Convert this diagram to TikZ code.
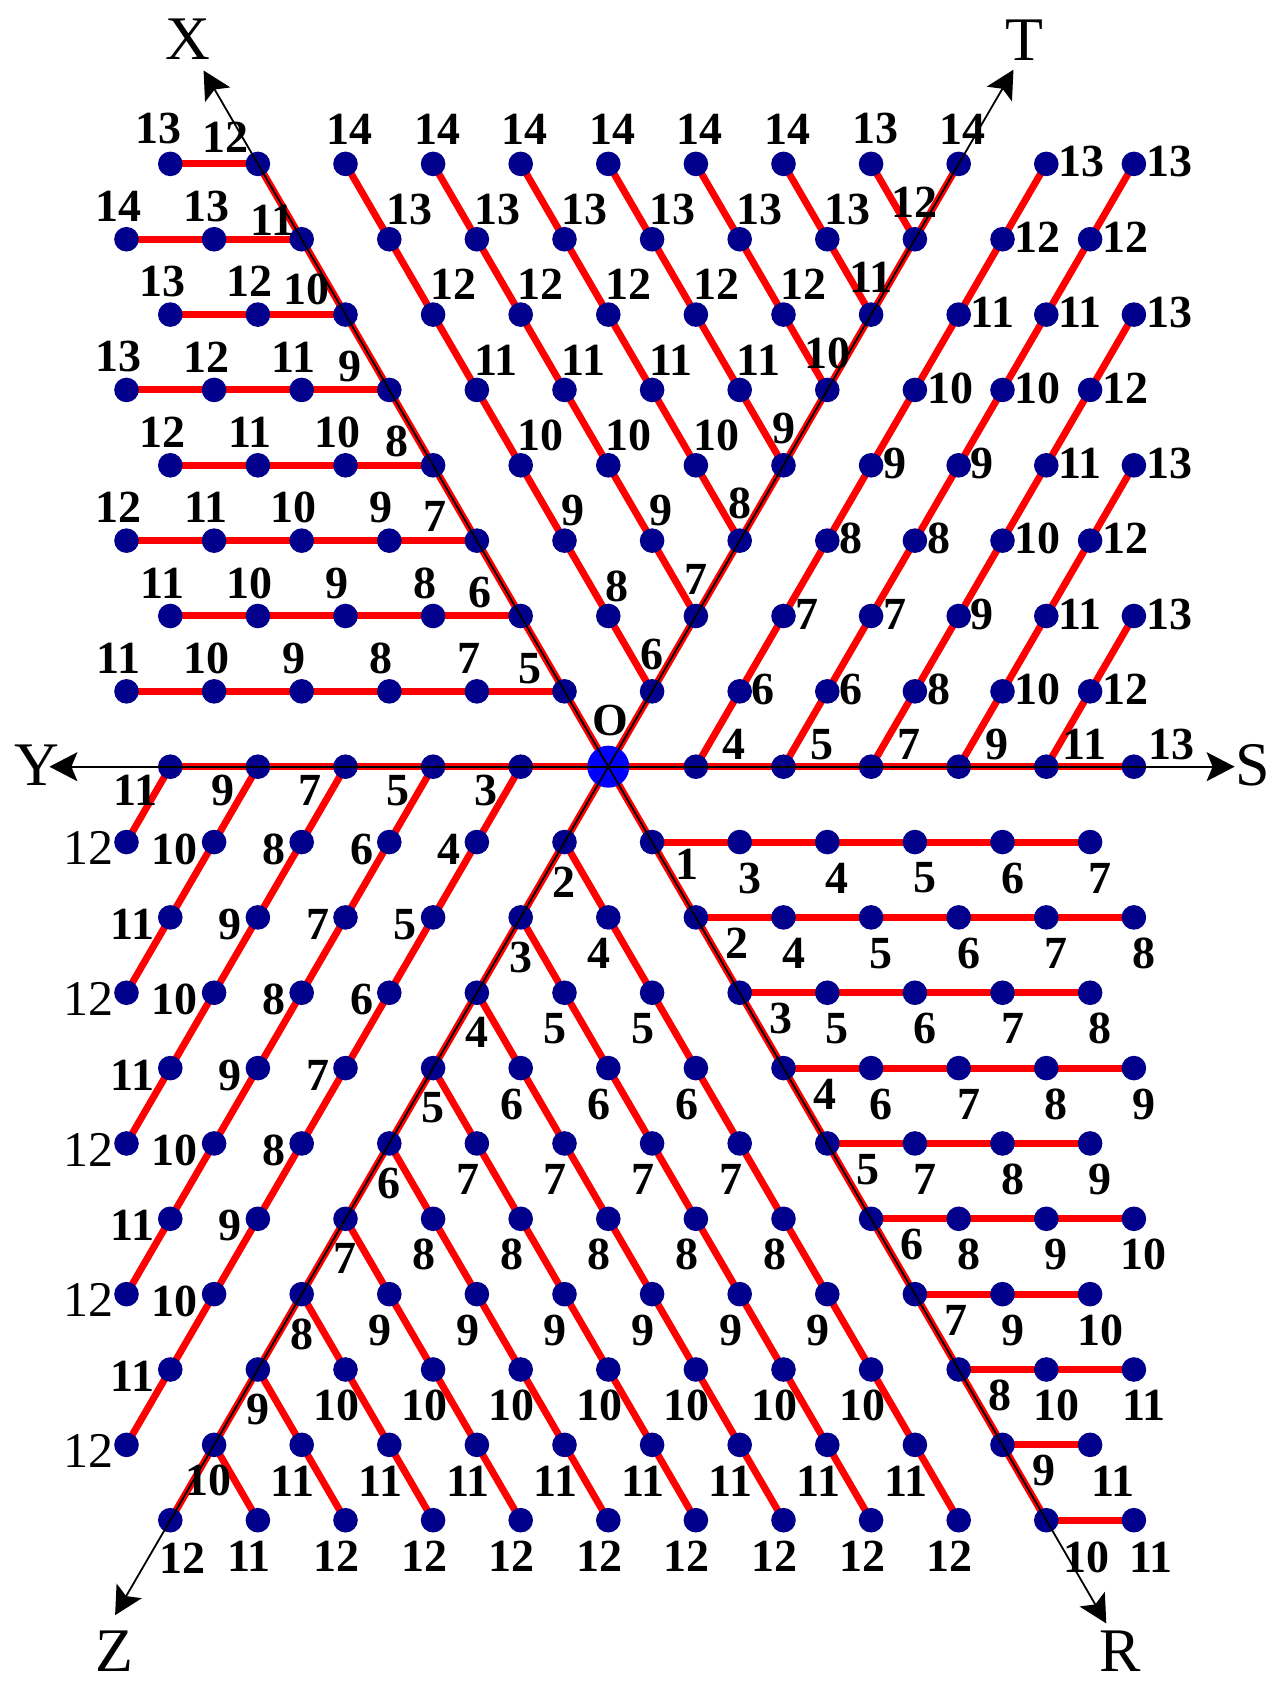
\documentclass[tikz,border=0pt]{standalone}
\usepackage{fontspec}
\setmainfont{Liberation Serif}
\usetikzlibrary{arrows.meta,backgrounds}
\definecolor{dotblue}{RGB}{0,0,140}
\definecolor{oblue}{RGB}{0,0,255}
\definecolor{lred}{RGB}{255,0,0}
\begin{document}
\begin{tikzpicture}[x={(87.6pt,0pt)}, y={(43.8pt,75.35pt)},
  redl/.style={draw=lred, line width=7pt},
  dotn/.style={circle, fill=dotblue, inner sep=0pt, minimum size=24.6pt},
  onode/.style={circle, fill=oblue, inner sep=0pt, minimum size=42pt},
  axisl/.style={draw=black, line width=1.8pt, >={Stealth[length=28pt,width=29pt,inset=6pt]}, <->},
  lab/.style={font=\fontsize{46}{46}\selectfont\bfseries, inner sep=0pt},
  labr/.style={font=\fontsize{50}{50}\selectfont, inner sep=0pt},
  axlab/.style={font=\fontsize{62}{62}\selectfont, inner sep=0pt}]
\useasboundingbox (-608.3pt,-925.3pt) rectangle (666.7pt,766.7pt);

% ---------- lattice points (dots) ----------
% S-T region
\foreach \vk/\vn in {1/8,2/8,3/6,4/4,5/2,6/0}
  \foreach \vj in {0,...,\vn}
    \node[dotn] (p\vk x\vj) at (\vk,\vj) {};
% T-X region
\foreach \va in {1,...,8}{
  \pgfmathtruncatemacro\vn{8-\va}
  \foreach \vm in {0,...,\vn}{
    \pgfmathtruncatemacro\vi{0-\vm}\pgfmathtruncatemacro\vjj{\va+\vm}
    \node[dotn] (p\vi x\vjj) at (\vi,\vjj) {};}}
% X-Y region
\foreach \vj/\vn in {1/5,2/4,3/4,4/3,5/3,6/2,7/2,8/1}
  \foreach \vm in {0,...,\vn}{
    \pgfmathtruncatemacro\vi{0-\vj-\vm}
    \node[dotn] (p\vi x\vj) at (\vi,\vj) {};}
% Y-Z region
\foreach \vk in {1,...,5}{
  \pgfmathtruncatemacro\vn{11-2*\vk}
  \foreach \vm in {0,...,\vn}{
    \pgfmathtruncatemacro\vjj{0-\vm}
    \node[dotn] (p-\vk x\vjj) at (-\vk,\vjj) {};}}
% Z-R region
\foreach \vj in {1,...,10}{
  \pgfmathtruncatemacro\vn{10-\vj}
  \foreach \vm in {0,...,\vn}{
    \pgfmathtruncatemacro\vjj{0-\vj-\vm}
    \node[dotn] (p\vm x\vjj) at (\vm,\vjj) {};}}
% R-S region
\foreach \vj/\vn in {1/5,2/5,3/4,4/4,5/3,6/3,7/2,8/2,9/1,10/1}
  \foreach \vm in {0,...,\vn}{
    \pgfmathtruncatemacro\vi{\vj+\vm}
    \node[dotn] (p\vi x-\vj) at (\vi,-\vj) {};}
% origin
\node[onode] (O) at (0,0) {};

% ---------- red connectors (behind the dots) ----------
\begin{pgfonlayer}{background}
\draw[redl] (O.center) -- (p6x0.center);
\draw[redl] (O.center) -- (p0x8.center);
\draw[redl] (O.center) -- (p-8x8.center);
\draw[redl] (O.center) -- (p-5x0.center);
\draw[redl] (O.center) -- (p0x-10.center);
\draw[redl] (O.center) -- (p10x-10.center);
\foreach \vk/\vn in {1/8,2/8,3/6,4/4,5/2}
  \draw[redl] (p\vk x0.center) -- (p\vk x\vn.center);
\foreach \va in {1,...,7}{
  \pgfmathtruncatemacro\vi{\va-8}
  \draw[redl] (p0x\va.center) -- (p\vi x8.center);}
\foreach \vj/\vn in {1/5,2/4,3/4,4/3,5/3,6/2,7/2,8/1}{
  \pgfmathtruncatemacro\vi{0-\vj-\vn}\pgfmathtruncatemacro\vz{0-\vj}
  \draw[redl] (p\vz x\vj.center) -- (p\vi x\vj.center);}
\foreach \vk in {1,...,5}{
  \pgfmathtruncatemacro\vjj{2*\vk-11}
  \draw[redl] (p-\vk x0.center) -- (p-\vk x\vjj.center);}
\foreach \vj in {1,...,9}{
  \pgfmathtruncatemacro\vi{10-\vj}
  \draw[redl] (p0x-\vj.center) -- (p\vi x-10.center);}
\foreach \vj/\vn in {1/5,2/5,3/4,4/4,5/3,6/3,7/2,8/2,9/1,10/1}{
  \pgfmathtruncatemacro\vi{\vj+\vn}
  \draw[redl] (p\vj x-\vj.center) -- (p\vi x-\vj.center);}
\end{pgfonlayer}

% ---------- axes ----------
\coordinate (Xt) at (-9.24,9.24);
\coordinate (Tt) at (0,9.25);
\coordinate (Yt) at (-6.38,0);
\coordinate (St) at (7.15,0);
\coordinate (Zt) at (0,-11.26);
\coordinate (Rt) at (11.37,-11.37);
\draw[axisl] (Xt) -- (Rt);
\draw[axisl] (Tt) -- (Zt);
\draw[axisl] (Yt) -- (St);
\node[axlab, xshift=-15.7pt, yshift=31.5pt] (Xl) at (Xt) {X};
\node[axlab, xshift=10.5pt, yshift=29.2pt] (Tl) at (Tt) {T};
\node[axlab, xshift=-12.8pt, yshift=1.7pt] (Yl) at (Yt) {Y};
\node[axlab, xshift=17.7pt, yshift=1.7pt] (Sl) at (St) {S};
\node[axlab, xshift=-0.3pt, yshift=-35.8pt] (Zl) at (Zt) {Z};
\node[axlab, xshift=13.7pt, yshift=-28.1pt] (Rl) at (Rt) {R};
\node[lab, xshift=2pt, yshift=46pt] (Ol) at (O) {O};

% ---------- labels ----------
% S axis
\foreach \vk/\vt in {1/4,2/5,3/7,4/9,5/11,6/13}
  \node[lab, xshift=38pt, yshift=22pt] (l\vk x0) at (p\vk x0) {\vt};
% S-T interior
\foreach \vk/\vn/\vb in {1/8/5,2/8/5,3/6/7,4/4/9,5/2/11}
  \foreach \vj in {1,...,\vn}{
    \pgfmathtruncatemacro\vt{\vb+\vj}
    \node[lab, anchor=west, xshift=12pt, yshift=2pt] (l\vk x\vj) at (p\vk x\vj) {\vt};}
% T axis
\foreach \vj in {1,...,7}{
  \pgfmathtruncatemacro\vt{\vj+5}
  \node[lab, yshift=37pt] (l0x\vj) at (p0x\vj) {\vt};}
\node[lab, xshift=4pt, yshift=35pt] (l0x8) at (p0x8) {14};
% T-X interior
\foreach \va in {1,...,6}{
  \pgfmathtruncatemacro\vn{7-\va}
  \foreach \vm in {1,...,\vn}{
    \pgfmathtruncatemacro\vi{0-\vm}\pgfmathtruncatemacro\vjj{\va+\vm}\pgfmathtruncatemacro\vt{\vjj+6}
    \node[lab, anchor=west, xshift=-3pt, yshift=30pt] (l\vi x\vjj) at (p\vi x\vjj) {\vt};}}
\foreach \vi/\vt in {-7/14,-6/14,-5/14,-4/14,-3/14,-2/14,-1/13}
  \node[lab, xshift=4pt, yshift=35pt] (l\vi x8) at (p\vi x8) {\vt};
% X axis
\foreach \vj/\vt/\vdx/\vdy in {1/5/-34/22.5,2/6/-40.8/23.5,3/7/-41.7/24,4/8/-36/24,5/9/-39.5/23.3,6/10/-38.9/24.7,7/11/-29.2/19.3,8/12/-32.8/27}
  \node[lab, xshift=\vdx pt, yshift=\vdy pt] (l-\vj x\vj) at (p-\vj x\vj) {\vt};
% X-Y interior
\foreach \vj/\vn in {1/5,2/4,3/4,4/3,5/3,6/2,7/2}
  \foreach \vm in {1,...,\vn}{
    \pgfmathtruncatemacro\vi{0-\vj-\vm}\pgfmathtruncatemacro\vt{\vj+5+\vm}
    \node[lab, xshift=-8pt, yshift=33pt] (l\vi x\vj) at (p\vi x\vj) {\vt};}
\node[lab, xshift=-12pt, yshift=35pt] (l-9x8) at (p-9x8) {13};
% Y axis
\foreach \vk in {1,...,5}{
  \pgfmathtruncatemacro\vt{2*\vk+1}
  \node[lab, xshift=-35pt, yshift=-24pt] (l-\vk x0) at (p-\vk x0) {\vt};}
% Y-Z interior
\foreach \vk in {1,...,5}{
  \pgfmathtruncatemacro\vn{11-2*\vk}
  \foreach \vm in {1,...,\vn}{
    \pgfmathtruncatemacro\vjj{0-\vm}\pgfmathtruncatemacro\vt{2*\vk+1+\vm}
    \ifnum\vt=12
      \node[labr, anchor=east, xshift=-13pt, yshift=-6pt] (l-\vk x\vjj) at (p-\vk x\vjj) {\vt};
    \else
      \node[lab, anchor=east, xshift=-16pt, yshift=-7pt] (l-\vk x\vjj) at (p-\vk x\vjj) {\vt};
    \fi}}
% Z axis
\foreach \vj in {1,...,8}{
  \pgfmathtruncatemacro\vt{\vj+1}
  \node[lab, yshift=-40pt] (l0x-\vj) at (p0x-\vj) {\vt};}
\node[lab, xshift=-6pt, yshift=-36pt] (l0x-9) at (p0x-9) {10};
\node[lab, xshift=12pt, yshift=-38pt] (l0x-10) at (p0x-10) {12};
% Z-R interior
\foreach \vj in {1,...,9}{
  \pgfmathtruncatemacro\vn{10-\vj}
  \foreach \vm in {1,...,\vn}{
    \pgfmathtruncatemacro\vjj{0-\vj-\vm}\pgfmathtruncatemacro\vt{\vj+\vm+2}
    \ifnum\vj=9 \def\vt{11}\fi
    \node[lab, xshift=-9pt, yshift=-36pt] (l\vm x\vjj) at (p\vm x\vjj) {\vt};}}
% R axis
\foreach \vj in {2,...,9}
  \node[lab, xshift=41pt, yshift=-26pt] (l\vj x-\vj) at (p\vj x-\vj) {\vj};
\node[lab, xshift=35pt, yshift=-22pt] (l1x-1) at (p1x-1) {1};
\node[lab, xshift=40pt, yshift=-37.6pt] (l10x-10) at (p10x-10) {10};
% R-S interior
\foreach \vj/\vn in {1/5,2/5,3/4,4/4,5/3,6/3,7/2,8/2}
  \foreach \vm in {1,...,\vn}{
    \pgfmathtruncatemacro\vi{\vj+\vm}\pgfmathtruncatemacro\vt{\vj+1+\vm}
    \node[lab, xshift=10pt, yshift=-36pt] (l\vi x-\vj) at (p\vi x-\vj) {\vt};}
\node[lab, xshift=23pt, yshift=-36pt] (l10x-9) at (p10x-9) {11};
\node[lab, xshift=17pt, yshift=-37.6pt] (l11x-10) at (p11x-10) {11};
\end{tikzpicture}
\end{document}
